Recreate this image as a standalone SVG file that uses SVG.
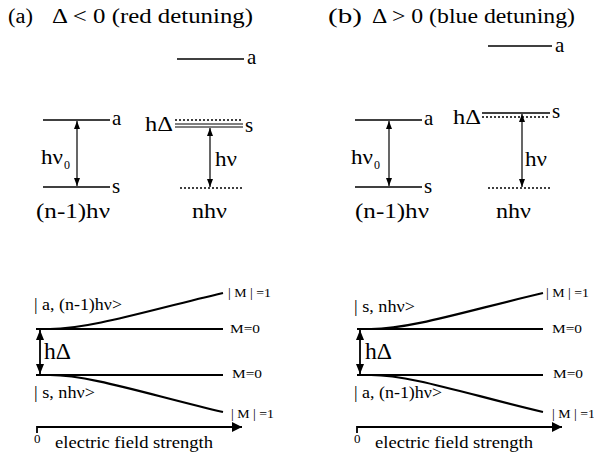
<svg xmlns="http://www.w3.org/2000/svg" width="594" height="458" viewBox="0 0 594 458">
<defs>
<marker id="ahv" viewBox="0 0 6 8" refX="3" refY="8" markerWidth="6" markerHeight="8" markerUnits="userSpaceOnUse" orient="0"><path d="M0,0 L6,0 L3,8 z" fill="#000"/></marker>
<marker id="ahu" viewBox="0 0 6 8" refX="3" refY="0" markerWidth="6" markerHeight="8" markerUnits="userSpaceOnUse" orient="0"><path d="M0,8 L6,8 L3,0 z" fill="#000"/></marker>
<marker id="bhv" viewBox="0 0 8 10" refX="4" refY="10" markerWidth="8" markerHeight="10" markerUnits="userSpaceOnUse" orient="0"><path d="M0,0 L8,0 L4,10 z" fill="#000"/></marker>
<marker id="bhu" viewBox="0 0 8 10" refX="4" refY="0" markerWidth="8" markerHeight="10" markerUnits="userSpaceOnUse" orient="0"><path d="M0,10 L8,10 L4,0 z" fill="#000"/></marker>
<marker id="ah3" viewBox="0 0 10 10" refX="10" refY="5" markerWidth="12" markerHeight="10" markerUnits="userSpaceOnUse" orient="auto"><path d="M0,0 L10,5 L0,10 z" fill="#000"/></marker>
</defs>
<style>
text{font-family:"Liberation Serif","DejaVu Serif",serif;fill:#000}
.t{font-size:20px}
.l{font-size:21px}
.sub{font-size:12px}
.sm{font-size:13px}
.st{font-size:17px}
.hd{font-size:24px}
.lv{stroke:#000;stroke-width:1.6;fill:none}
.dt{stroke:#000;stroke-width:1.3;stroke-dasharray:2,2;fill:none}
.ar{stroke:#000;stroke-width:1.2;fill:none;marker-start:url(#ahu);marker-end:url(#ahv)}
.ln{stroke:#000;stroke-width:2.2;fill:none}
.ar2{stroke:#000;stroke-width:1.8;fill:none;marker-start:url(#bhu);marker-end:url(#bhv)}
.ax{stroke:#000;stroke-width:1.8;fill:none;marker-end:url(#ah3)}
</style>
<g id="titles">
<text class="t" x="8" y="23" textLength="25" lengthAdjust="spacingAndGlyphs">(a)</text>
<text class="t" x="52" y="23" textLength="201" lengthAdjust="spacingAndGlyphs">Δ &lt; 0 (red detuning)</text>
<text class="t" x="328" y="23" textLength="34" lengthAdjust="spacingAndGlyphs">(b)</text>
<text class="t" x="372" y="23" textLength="203" lengthAdjust="spacingAndGlyphs">Δ &gt; 0 (blue detuning)</text>
</g>
<g id="levels-a">
<line class="lv" x1="177" y1="59" x2="244" y2="59"/>
<text class="l" x="247" y="64">a</text>
<line class="lv" x1="43" y1="120" x2="110" y2="120"/>
<text class="l" x="112" y="125">a</text>
<line class="lv" x1="43" y1="187" x2="110" y2="187"/>
<text class="l" x="112" y="193">s</text>
<text class="l" x="41" y="164" textLength="22" lengthAdjust="spacingAndGlyphs">hν</text>
<text class="sub" x="64" y="169">0</text>
<text class="l" x="36" y="218" textLength="74" lengthAdjust="spacingAndGlyphs">(n-1)hν</text>
<line class="dt" x1="175" y1="120" x2="241" y2="120"/>
<line stroke="#000" stroke-width="1" x1="175" y1="124" x2="243" y2="124"/>
<line stroke="#000" stroke-width="1" x1="175" y1="127" x2="243" y2="127"/>
<text class="l" x="145" y="131" textLength="28" lengthAdjust="spacingAndGlyphs">hΔ</text>
<text class="l" x="245" y="132">s</text>
<text class="l" x="215" y="166" textLength="22" lengthAdjust="spacingAndGlyphs">hν</text>
<line class="dt" x1="180" y1="188" x2="243" y2="188"/>
<text class="l" x="192" y="218" textLength="35" lengthAdjust="spacingAndGlyphs">nhν</text>
</g>
<g id="levels-b">
<line class="lv" x1="488" y1="46" x2="552" y2="46"/>
<text class="l" x="555" y="52">a</text>
<line class="lv" x1="355" y1="120" x2="422" y2="120"/>
<text class="l" x="424" y="125">a</text>
<line class="lv" x1="355" y1="187" x2="422" y2="187"/>
<text class="l" x="424" y="193">s</text>
<text class="l" x="351" y="164" textLength="22" lengthAdjust="spacingAndGlyphs">hν</text>
<text class="sub" x="374" y="169">0</text>
<text class="l" x="355" y="218" textLength="74" lengthAdjust="spacingAndGlyphs">(n-1)hν</text>
<line class="lv" x1="482" y1="113" x2="550" y2="113"/>
<line class="dt" x1="482" y1="117" x2="550" y2="117"/>
<text class="l" x="453" y="124" textLength="28" lengthAdjust="spacingAndGlyphs">hΔ</text>
<text class="l" x="552" y="118">s</text>
<text class="l" x="525" y="166" textLength="22" lengthAdjust="spacingAndGlyphs">hν</text>
<line class="dt" x1="488" y1="188" x2="552" y2="188"/>
<text class="l" x="496" y="218" textLength="35" lengthAdjust="spacingAndGlyphs">nhν</text>
</g>
<g id="stark-a">
<line class="ln" x1="36" y1="329" x2="223" y2="329"/>
<line class="ln" x1="36" y1="375" x2="223" y2="375"/>
<path class="ln" d="M50 329 C 90 329, 150 310, 223 293"/>
<path class="ln" d="M50 375 C 90 375, 150 395, 223 412"/>
<text class="hd" x="44" y="359" textLength="27" lengthAdjust="spacingAndGlyphs">hΔ</text>
<text class="st" x="34" y="310" textLength="88" lengthAdjust="spacingAndGlyphs">| a, (n-1)hν&gt;</text>
<text class="st" x="34" y="398" textLength="61" lengthAdjust="spacingAndGlyphs">| s, nhν&gt;</text>
<text class="sm" x="228" y="297" textLength="43" lengthAdjust="spacingAndGlyphs">| M | =1</text>
<text class="sm" x="230" y="333" textLength="30" lengthAdjust="spacingAndGlyphs">M=0</text>
<text class="sm" x="232" y="378" textLength="30" lengthAdjust="spacingAndGlyphs">M=0</text>
<text class="sm" x="231" y="418" textLength="43" lengthAdjust="spacingAndGlyphs">| M | =1</text>
<text class="sm" x="34" y="443">0</text>
<text class="st" x="55" y="448" textLength="158" lengthAdjust="spacingAndGlyphs">electric field strength</text>
</g>
<g id="stark-b">
<line class="ln" x1="357" y1="329" x2="543" y2="329"/>
<line class="ln" x1="357" y1="375" x2="543" y2="375"/>
<path class="ln" d="M371 329 C 411 329, 470 310, 543 293"/>
<path class="ln" d="M371 375 C 411 375, 470 395, 543 412"/>
<text class="hd" x="365" y="359" textLength="27" lengthAdjust="spacingAndGlyphs">hΔ</text>
<text class="st" x="354" y="312" textLength="61" lengthAdjust="spacingAndGlyphs">| s, nhν&gt;</text>
<text class="st" x="354" y="398" textLength="88" lengthAdjust="spacingAndGlyphs">| a, (n-1)hν&gt;</text>
<text class="sm" x="546" y="297" textLength="43" lengthAdjust="spacingAndGlyphs">| M | =1</text>
<text class="sm" x="552" y="333" textLength="30" lengthAdjust="spacingAndGlyphs">M=0</text>
<text class="sm" x="553" y="378" textLength="30" lengthAdjust="spacingAndGlyphs">M=0</text>
<text class="sm" x="552" y="418" textLength="43" lengthAdjust="spacingAndGlyphs">| M | =1</text>
<text class="sm" x="354" y="443">0</text>
<text class="st" x="375" y="448" textLength="158" lengthAdjust="spacingAndGlyphs">electric field strength</text>
</g>
<g id="connectors">
<line class="ar" x1="77" y1="121" x2="77" y2="186"/>
<line class="ar" x1="210" y1="128" x2="210" y2="187"/>
<line class="ar" x1="389" y1="121" x2="389" y2="186"/>
<line class="ar" x1="522" y1="114" x2="522" y2="187"/>
<line class="ar2" x1="40" y1="330" x2="40" y2="374"/>
<line class="ar2" x1="360" y1="330" x2="360" y2="374"/>
<path class="ax" d="M37 433 V427 H242"/>
<path class="ax" d="M357 433 V427 H562"/>
</g>
</svg>
